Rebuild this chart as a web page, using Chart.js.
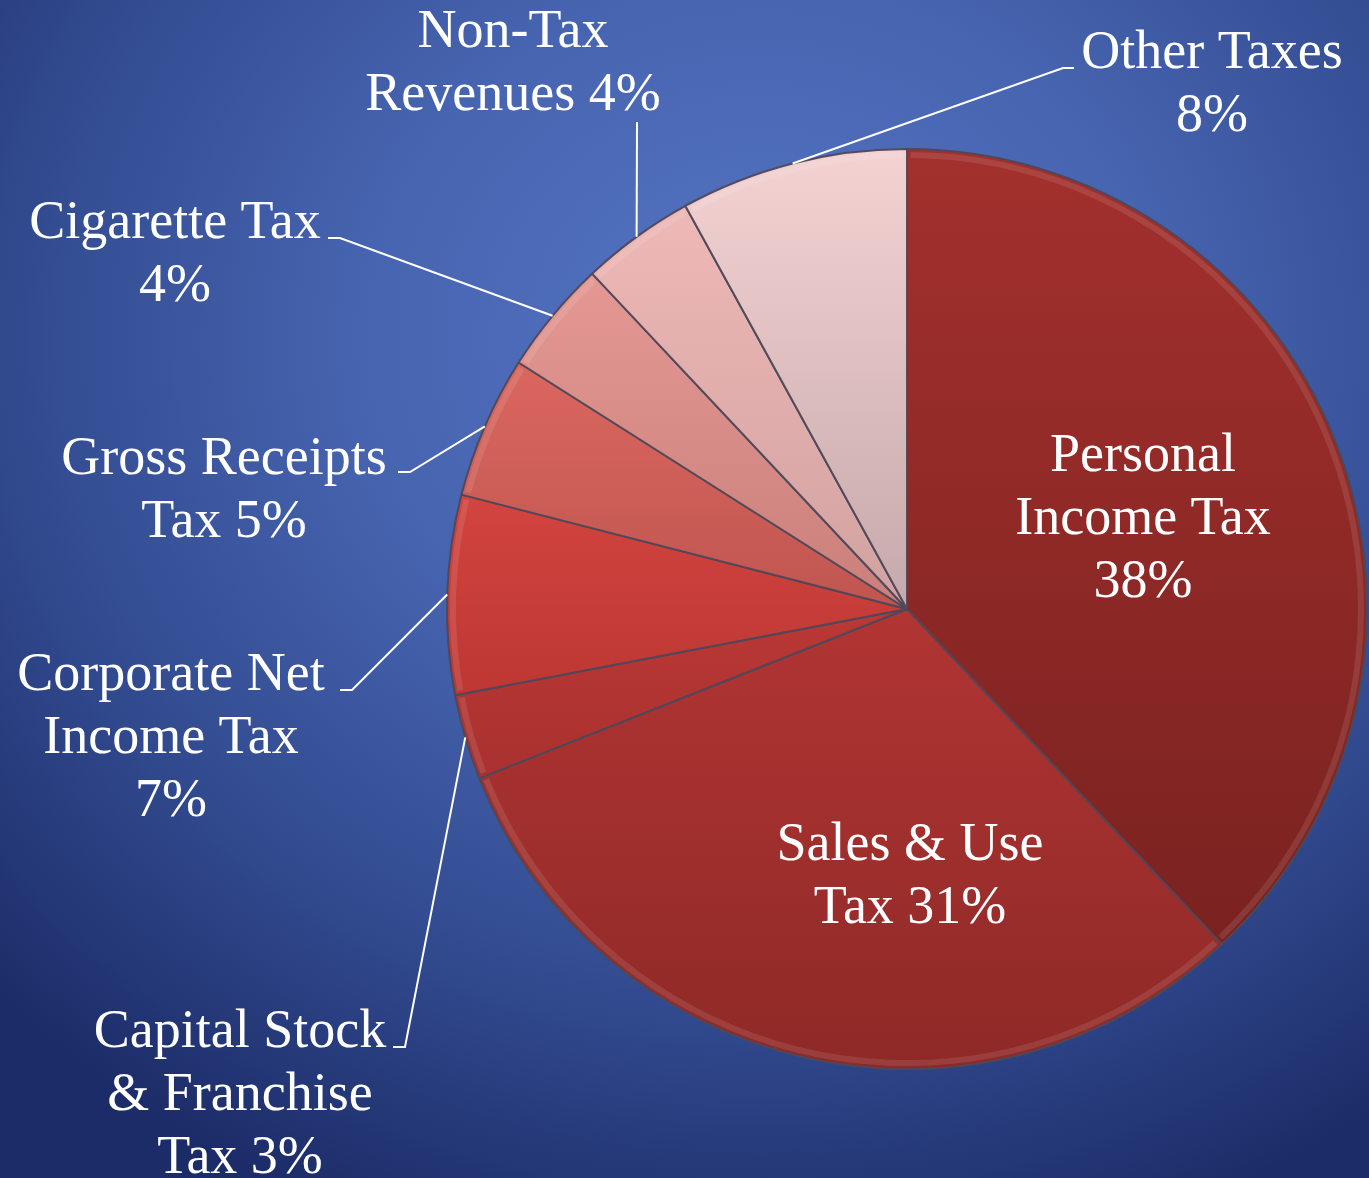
<!DOCTYPE html>
<html>
<head>
<meta charset="utf-8">
<title>Revenue Sources</title>
<script src="https://cdn.jsdelivr.net/npm/chart.js@4.4.1/dist/chart.umd.min.js"></script>
<style>
  html, body { margin: 0; padding: 0; background: #1b2b66; }
  #wrap {
    position: relative;
    width: 1369px;
    height: 1178px;
    background: radial-gradient(ellipse 1050px 950px at 760px 340px, #5474c2 0%, #4764b0 38%, #324b90 70%, #1c2c68 100%);
  }
</style>
</head>
<body>
<div id="wrap"><canvas id="chart-revenue"></canvas></div>
<script>
// --- Data ---
const categories = [
  'Personal Income Tax',
  'Sales & Use Tax',
  'Capital Stock & Franchise Tax',
  'Corporate Net Income Tax',
  'Gross Receipts Tax',
  'Cigarette Tax',
  'Non-Tax Revenues',
  'Other Taxes'
];
const shares = [38, 31, 3, 7, 5, 4, 4, 8];

// label text split into lines, {p} = percent
const labelLines = [
  ['Personal', 'Income Tax', '{p}'],
  ['Sales & Use', 'Tax {p}'],
  ['Capital Stock', '& Franchise', 'Tax {p}'],
  ['Corporate Net', 'Income Tax', '{p}'],
  ['Gross Receipts', 'Tax {p}'],
  ['Cigarette Tax', '{p}'],
  ['Non-Tax', 'Revenues {p}'],
  ['Other Taxes', '{p}']
];

// --- Styles ---
const sliceTop = ['#a3302d', '#b13533', '#bb3835', '#d2443f', '#da675f', '#e59893', '#eeb8b6', '#f4d2d2'];
const sliceBottom = ['#7a2220', '#8e2927', '#a8312f', '#bd3733', '#c05550', '#ca7f7b', '#d1a2a1', '#c6a9ab'];

// label placement: text centre x, first baseline y, leader elbow and stub end
const labelLayout = [
  { x: 1143, y: 471 },
  { x: 910, y: 860 },
  { x: 240, y: 1047, elbow: [405, 1047], stub: 393 },
  { x: 171, y: 690, elbow: [352, 690], stub: 340 },
  { x: 224, y: 474, elbow: [410, 472], stub: 398 },
  { x: 175, y: 238, elbow: [340, 238], stub: 328 },
  { x: 513, y: 47, elbow: [637, 122] },
  { x: 1212, y: 68, elbow: [1063, 68], stub: 1074 }
];

const FONT = "54px 'Liberation Serif', 'Times New Roman', serif";
const LINE_H = 63;
const PIE_R = 460;

// vertical gradient spanning each slice's own extent
function sliceGradient(context) {
  const chart = context.chart;
  const area = chart.chartArea;
  const i = context.dataIndex;
  if (!area) return sliceTop[i];
  const cx = (area.left + area.right) / 2;
  const cy = (area.top + area.bottom) / 2;
  const total = shares.reduce((a, b) => a + b, 0);
  let before = 0;
  for (let k = 0; k < i; k++) before += shares[k];
  const a0 = before / total * Math.PI * 2;
  const a1 = (before + shares[i]) / total * Math.PI * 2;
  const ys = [cy, cy - PIE_R * Math.cos(a0), cy - PIE_R * Math.cos(a1)];
  if (a0 <= 0 || a1 >= Math.PI * 2) ys.push(cy - PIE_R);
  if (a0 <= Math.PI && a1 >= Math.PI) ys.push(cy + PIE_R);
  const y0 = Math.min(...ys);
  const y1 = Math.max(...ys);
  const g = chart.ctx.createLinearGradient(cx, y0, cx, y1 + 1);
  g.addColorStop(0, sliceTop[i]);
  g.addColorStop(1, sliceBottom[i]);
  return g;
}

// --- Labels + leader lines ---
const labelPlugin = {
  id: 'revenueLabels',
  afterDatasetsDraw(chart) {
    const ctx = chart.ctx;
    const meta = chart.getDatasetMeta(0);
    const total = shares.reduce((a, b) => a + b, 0);
    ctx.save();

    // soft bevel highlight just inside the outer edge
    meta.data.forEach((arc) => {
      const p = arc.getProps(['x', 'y', 'startAngle', 'endAngle', 'outerRadius'], true);
      ctx.beginPath();
      ctx.arc(p.x, p.y, p.outerRadius - 6, p.startAngle + 0.008, p.endAngle - 0.008);
      ctx.strokeStyle = 'rgba(255,255,255,0.10)';
      ctx.lineWidth = 6;
      ctx.stroke();
    });

    ctx.font = FONT;
    ctx.fillStyle = '#ffffff';
    ctx.strokeStyle = '#ffffff';
    ctx.textAlign = 'center';
    ctx.textBaseline = 'alphabetic';

    meta.data.forEach((arc, i) => {
      const lay = labelLayout[i];
      const pct = Math.round(shares[i] / total * 100) + '%';
      const lines = labelLines[i].map(s => s.replace('{p}', pct));

      if (lay.elbow) {
        const p = arc.getProps(['x', 'y', 'startAngle', 'endAngle', 'outerRadius'], true);
        const mid = (p.startAngle + p.endAngle) / 2;
        const sx = p.x + Math.cos(mid) * p.outerRadius;
        const sy = p.y + Math.sin(mid) * p.outerRadius;
        ctx.beginPath();
        ctx.moveTo(sx, sy);
        ctx.lineTo(lay.elbow[0], lay.elbow[1]);
        if (lay.stub !== undefined) ctx.lineTo(lay.stub, lay.elbow[1]);
        ctx.lineWidth = 2;
        ctx.stroke();
      }

      lines.forEach((t, j) => {
        ctx.fillText(t, lay.x, lay.y + j * LINE_H);
      });
    });
    ctx.restore();
  }
};

const canvas = document.getElementById('chart-revenue');
new Chart(canvas.getContext('2d'), {
  type: 'pie',
  data: {
    labels: categories,
    datasets: [{
      data: shares,
      backgroundColor: sliceGradient,
      borderColor: 'rgba(78,72,90,0.95)',
      borderWidth: 2
    }]
  },
  options: {
    responsive: true,
    maintainAspectRatio: false,
    animation: false,
    radius: PIE_R,
    layout: { padding: { left: 445, right: 0, top: 40, bottom: 0 } },
    plugins: {
      legend: { display: false },
      tooltip: { enabled: false }
    }
  },
  plugins: [labelPlugin]
});
</script>
</body>
</html>
